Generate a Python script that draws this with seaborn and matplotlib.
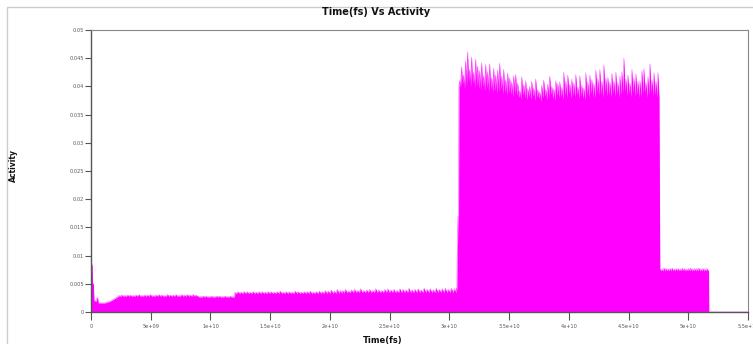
import numpy as np
import pandas as pd
import matplotlib
matplotlib.use("Agg")
import matplotlib.pyplot as plt
import seaborn as sns
from matplotlib.patches import Rectangle

# time in 1e9 fs, activity in 1e-3
start_t = [0.0, 0.02, 0.05, 0.10, 0.13, 0.20, 0.25, 0.45, 0.50, 0.56, 0.60, 1.17, 1.60, 2.00, 2.30]
start_a = [0.0, 0.0, 8.5, 8.3, 5.1, 5.0, 2.0, 1.9, 2.5, 2.5, 1.6, 1.6, 1.9, 2.4, 2.8]

# spiky segments: peaks between a floor level
seg_b_peaks = [2.9, 3.0, 2.9, 3.0, 3.0, 2.9, 3.0, 3.1, 2.9, 3.0, 3.0, 3.1, 2.9, 3.0,
               3.1, 3.0, 2.9, 3.1, 3.0, 3.0, 3.1, 2.9, 3.1, 3.0, 3.1, 3.0, 3.1, 3.0]
seg_c_peaks = [2.8, 2.7, 2.8, 2.8, 2.7, 2.8, 2.7, 2.8, 2.8, 2.7, 2.8, 2.7, 2.8, 2.7]
seg_d1_peaks = [3.5, 3.6, 3.5, 3.6, 3.6, 3.5, 3.6, 3.5, 3.6, 3.6, 3.5, 3.6, 3.6, 3.5, 3.6, 3.7, 3.5, 3.6,
                3.6, 3.5, 3.7, 3.6, 3.5, 3.6, 3.6, 3.7, 3.5, 3.6, 3.7, 3.6, 3.8, 3.7, 3.9, 3.7, 4.0, 3.8]
seg_d2_peaks = [3.8, 4.0, 3.7, 3.9, 4.0, 3.8, 4.1, 3.8, 3.9, 4.0, 3.8, 4.1, 3.9, 3.8, 4.0, 4.1, 3.9, 4.0, 3.8,
                4.1, 4.0, 3.9, 4.2, 3.9, 4.0, 4.1, 3.9, 4.2, 4.0, 4.1, 3.9, 4.2, 4.0, 4.1, 4.2, 4.0, 4.2, 4.1]

edge_t = [30.60, 30.63, 30.66, 30.72, 30.76, 30.80]
edge_a = [4.2, 3.8, 11.0, 17.0, 11.5, 40.0]

high_peaks = [41.0, 43.5, 42.0, 44.5, 46.1, 43.0, 45.2, 42.5, 44.8, 43.6,
              42.8, 44.2, 41.9, 43.9, 42.6, 44.0, 41.5, 43.2, 42.0, 42.9,
              44.1, 41.8, 43.0, 41.2, 42.4, 41.5, 40.8, 41.9, 42.1, 40.6,
              39.2, 41.7, 40.3, 41.0, 39.6, 40.0, 40.9, 39.7, 41.3, 39.4,
              39.0, 40.2, 41.1, 39.5, 40.4, 41.8, 40.0, 39.6, 41.0, 40.5,
              40.8, 39.8, 42.5, 40.9, 42.0, 40.4, 41.3, 40.6, 42.1, 39.9,
              41.9, 40.2, 39.7, 42.4, 40.8, 42.0, 41.2, 40.5, 42.9, 41.4,
              43.0, 40.9, 43.8, 41.5, 41.6, 40.8, 42.3, 41.0, 42.5, 40.7,
              41.8, 42.6, 45.0, 41.3, 42.0, 40.6, 43.0, 41.5, 42.2, 40.9,
              41.0, 42.8, 43.1, 40.7, 41.7, 44.0, 41.2, 42.4, 40.9, 42.4]
high_troughs = [39.8, 40.5, 39.5, 40.2, 41.0, 39.9, 40.6, 39.7, 40.3, 39.6,
                39.4, 40.0, 39.2, 39.8, 39.0, 39.6, 38.9, 39.3, 38.8, 39.1,
                39.5, 38.7, 39.0, 38.5, 38.9, 38.6, 38.2, 38.8, 38.4, 38.0,
                37.8, 38.5, 38.0, 37.6, 38.2, 37.7, 38.3, 37.5, 38.1, 37.9,
                37.4, 38.0, 38.3, 37.6, 38.1, 38.6, 37.8, 37.5, 38.4, 38.0,
                38.2, 37.7, 38.5, 38.0, 38.8, 37.9, 38.4, 38.1, 38.6, 37.8,
                38.3, 37.9, 37.6, 38.5, 38.0, 38.7, 38.2, 37.9, 38.9, 38.4,
                38.6, 38.0, 39.0, 38.3, 38.5, 38.1, 38.8, 38.2, 38.7, 38.0,
                38.5, 38.9, 39.2, 38.4, 38.7, 38.1, 38.9, 38.3, 38.6, 38.0,
                38.2, 38.7, 38.9, 38.0, 38.5, 39.0, 38.3, 38.6, 38.1, 37.9]

seg_e_peaks = [7.7, 7.6, 7.8, 7.7, 7.6, 7.7, 7.8, 7.6, 7.7, 7.7, 7.6, 7.8,
               7.7, 7.6, 7.7, 7.8, 7.6, 7.7, 7.7, 7.8, 7.6, 7.7, 7.6, 7.7]
end_t = [51.70, 51.72, 55.0]
end_a = [7.4, 0.0, 0.0]

xtick_labels = ["0", "5e+09", "1e+10", "1.5e+10", "2e+10", "2.5e+10", "3e+10",
                "3.5e+10", "4e+10", "4.5e+10", "5e+10", "5.5e+10"]
ytick_labels = ["0", "0.005", "0.01", "0.015", "0.02", "0.025", "0.03",
                "0.035", "0.04", "0.045", "0.05"]


def spiky(t0, t1, peaks, troughs):
    tt = np.linspace(t0, t1, 2 * len(peaks))
    vals = np.empty(2 * len(peaks))
    vals[0::2] = peaks
    vals[1::2] = troughs
    return tt, vals


parts = [
    (np.array(start_t), np.array(start_a)),
    spiky(2.35, 8.9, seg_b_peaks, [2.8] * len(seg_b_peaks)),
    spiky(8.95, 12.0, seg_c_peaks, [2.65] * len(seg_c_peaks)),
    spiky(12.06, 21.0, seg_d1_peaks, [3.3] * len(seg_d1_peaks)),
    spiky(21.05, 30.55, seg_d2_peaks, [3.45] * len(seg_d2_peaks)),
    (np.array(edge_t), np.array(edge_a)),
    spiky(30.85, 47.55, high_peaks, high_troughs),
    spiky(47.62, 51.65, seg_e_peaks, [7.3] * len(seg_e_peaks)),
    (np.array(end_t), np.array(end_a)),
]
t = np.concatenate([p[0] for p in parts]) * 1e9
a = np.concatenate([p[1] for p in parts]) * 1e-3
df = pd.DataFrame({"Time(fs)": t, "Activity": a})

sns.set_style("white")
plt.rcParams["font.family"] = ["DejaVu Sans"]

fig = plt.figure(figsize=(7.53, 3.44), dpi=100)
ax = fig.add_axes([91 / 753, 1 - 312 / 344, 657 / 753, 282 / 344])

magenta = "#ff00ff"
ax.fill_between(df["Time(fs)"], df["Activity"], color=magenta, lw=0)
sns.lineplot(data=df, x="Time(fs)", y="Activity", estimator=None, sort=False,
             color=magenta, lw=0.4, alpha=0.7, ax=ax)

ax.set_xlim(0, 5.5e10)
ax.set_ylim(0, 0.05)
ax.set_xticks(np.arange(len(xtick_labels)) * 5e9)
ax.set_xticklabels(xtick_labels)
ax.set_yticks(np.arange(len(ytick_labels)) * 0.005)
ax.set_yticklabels(ytick_labels)
ax.tick_params(axis="x", length=6, width=0.8, pad=3, labelsize=3.6, colors="#555555")
ax.tick_params(axis="y", length=4, width=0.8, pad=1, labelsize=3.6, colors="#555555")
ax.tick_params(bottom=True, left=True)

for side in ["left", "bottom"]:
    ax.spines[side].set_color("#555555")
    ax.spines[side].set_linewidth(1.0)
for side in ["top", "right"]:
    ax.spines[side].set_color("#888888")
    ax.spines[side].set_linewidth(0.8)

ax.set_xlabel("Time(fs)", fontsize=6, fontweight="bold", color="#111111")
ax.xaxis.set_label_coords((383 - 91) / 657, (312 - 336) / 282)
ax.set_ylabel("Activity", fontsize=5.5, fontweight="bold", color="#111111")
ax.yaxis.set_label_coords((18 - 91) / 657, 0.52)

fig.text(0.5, 1 - 12 / 344, "Time(fs) Vs Activity", ha="center", va="center",
         fontsize=7, fontweight="bold", color="#111111")

fig.patches.append(Rectangle((7 / 753, -0.1), 1.1, 1 - 7 / 344 + 0.1,
                             transform=fig.transFigure, fill=False,
                             ec="#cccccc", lw=1.0))

fig.savefig("out.png", dpi=100)
